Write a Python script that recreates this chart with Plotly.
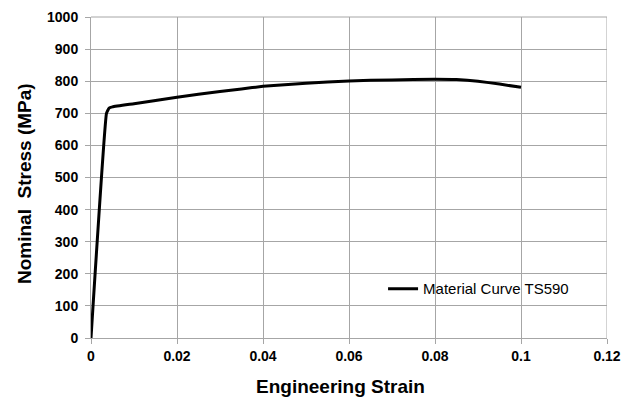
import plotly.graph_objects as go

# Engineering stress-strain curve, TS590 material
strain = [0.0, 0.0036, 0.0042, 0.005, 0.01, 0.02, 0.03, 0.035, 0.04, 0.05, 0.06,
          0.07, 0.08, 0.085, 0.09, 0.095, 0.1]
stress = [0, 700, 716, 720, 730, 750, 768, 776, 784, 794, 801,
          804, 806, 805, 800, 791, 781]

x_ticks = [0, 0.02, 0.04, 0.06, 0.08, 0.1, 0.12]
x_tick_labels = ["0", "0.02", "0.04", "0.06", "0.08", "0.1", "0.12"]
y_ticks = list(range(0, 1001, 100))
y_tick_labels = [str(v) for v in y_ticks]

grid = "#a6a6a6"
font_family = "Liberation Sans, Arial, sans-serif"

fig = go.Figure()
fig.add_trace(go.Scatter(
    x=strain, y=stress, mode="lines",
    name="Material Curve TS590",
    line=dict(color="black", width=3, shape="spline", smoothing=0.3),
))

fig.update_layout(
    width=622, height=398,
    margin=dict(l=91, r=15, t=17, b=60),
    paper_bgcolor="white", plot_bgcolor="white",
    font=dict(family=font_family, color="black"),
    showlegend=True,
    legend=dict(
        x=0.566, y=0.153, xanchor="left", yanchor="middle",
        bgcolor="rgba(0,0,0,0)", borderwidth=0,
        font=dict(size=15, family=font_family, color="black"),
        itemwidth=30,
    ),
    xaxis=dict(
        range=[0, 0.12], tickvals=x_ticks,
        ticktext=["<b>%s</b>" % t for t in x_tick_labels],
        automargin=False,
        showgrid=True, gridcolor=grid, gridwidth=1,
        showline=True, linecolor=grid, linewidth=1, mirror=False,
        ticks="outside", ticklen=5, tickcolor=grid,
        zeroline=False,
        tickfont=dict(size=14, family=font_family, color="black"),
    ),
    yaxis=dict(
        range=[0, 1000], tickvals=y_ticks,
        ticktext=["<b>%s</b>" % t for t in y_tick_labels],
        automargin=False,
        showgrid=True, gridcolor=grid, gridwidth=1,
        showline=True, linecolor=grid, linewidth=1,
        ticks="outside", ticklen=5, tickcolor=grid,
        ticklabelstandoff=4,
        zeroline=False,
        tickfont=dict(size=14, family=font_family, color="black"),
    ),
)

# Axis titles
fig.add_annotation(text="<b>Engineering Strain</b>", xref="paper", yref="paper",
                   x=(340 - 91) / 516, y=-(386 - 338) / 321,
                   xanchor="center", yanchor="middle", showarrow=False,
                   font=dict(size=19, family=font_family, color="black"))
fig.add_annotation(text="<b>Nominal  Stress (MPa)</b>", xref="paper", yref="paper",
                   x=-(91 - 25) / 516, y=(338 - 184) / 321, textangle=-90,
                   xanchor="center", yanchor="middle", showarrow=False,
                   font=dict(size=19, family=font_family, color="black"))

# Top and right border lines drawn at the range ends
fig.add_shape(type="line", xref="x", yref="paper", x0=0.12, x1=0.12, y0=0, y1=1,
              line=dict(color=grid, width=1), layer="below")
fig.add_shape(type="line", xref="paper", yref="paper", x0=0, x1=1, y0=1, y1=1,
              line=dict(color=grid, width=1), layer="below")

# White backing behind the legend entry, between the gridlines and the curve
fig.add_shape(type="rect", xref="paper", yref="paper",
              x0=0.57, x1=0.955, y0=0.11, y1=0.19,
              fillcolor="white", line=dict(width=0), layer="between")

fig.write_html("out.html")
